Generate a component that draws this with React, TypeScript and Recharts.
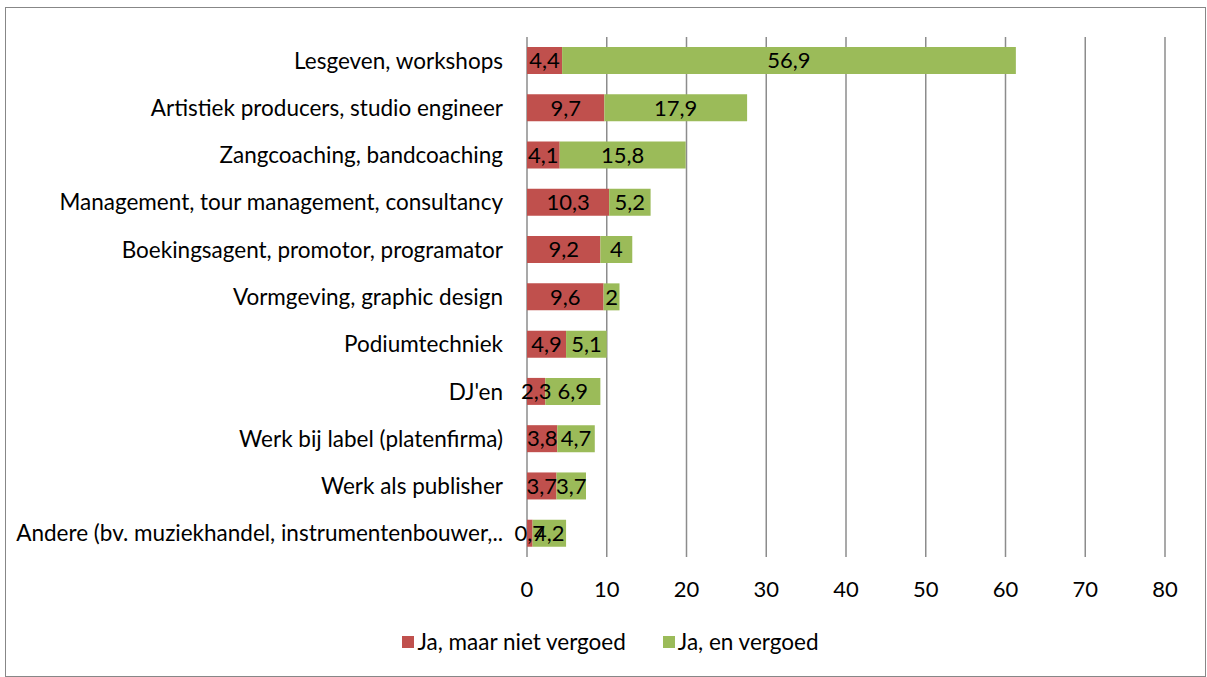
import React from 'react';
import { BarChart, Bar, XAxis, YAxis, CartesianGrid, Legend, LabelList } from 'recharts';

const categories = [
  'Lesgeven, workshops',
  'Artistiek producers, studio engineer',
  'Zangcoaching, bandcoaching',
  'Management, tour management, consultancy',
  'Boekingsagent, promotor, programator',
  'Vormgeving, graphic design',
  'Podiumtechniek',
  "DJ'en",
  'Werk bij label (platenfirma)',
  'Werk als publisher',
  'Andere (bv. muziekhandel, instrumentenbouwer,..',
];
const nietVergoed = [4.4, 9.7, 4.1, 10.3, 9.2, 9.6, 4.9, 2.3, 3.8, 3.7, 0.7];
const welVergoed = [56.9, 17.9, 15.8, 5.2, 4, 2, 5.1, 6.9, 4.7, 3.7, 4.2];
const xTicks = [0, 10, 20, 30, 40, 50, 60, 70, 80];

const RED = '#C0504D';
const GREEN = '#9BBB59';
const FONT = 'Lato, "Open Sans", sans-serif';

const data = categories.map((name, i) => ({
  name,
  niet: nietVergoed[i],
  wel: welVergoed[i],
}));

const comma = (v: any) => String(v).replace('.', ',');

const legendItems = [
  { label: 'Ja, maar niet vergoed', color: RED },
  { label: 'Ja, en vergoed', color: GREEN },
];

const LegendBox = () => (
  <div style={{ display: 'flex', justifyContent: 'center', paddingTop: 21, paddingLeft: 10, fontFamily: FONT, fontSize: 22.5, color: '#000' }}>
    {legendItems.map((it, i) => (
      <div key={i} style={{ display: 'flex', alignItems: 'center', marginRight: i === 0 ? 37 : 0 }}>
        <span style={{ width: 12, height: 12, background: it.color, display: 'inline-block', marginRight: 3 }} />
        <span>{it.label}</span>
      </div>
    ))}
  </div>
);

export default function App() {
  return (
    <div style={{ position: 'absolute', left: 5, top: 7, width: 1199, height: 668, border: '1px solid #878787', background: '#fff' }}>
      <BarChart
        width={1199}
        height={668}
        data={data}
        layout="vertical"
        margin={{ top: 29, right: 40, left: 0, bottom: 0 }}
        barSize={27}
      >
        <CartesianGrid horizontal={false} stroke="#8c8c8c" strokeWidth={1.5} />
        <XAxis
          type="number"
          domain={[0, 80]}
          ticks={xTicks}
          axisLine={false}
          tickLine={false}
          tickSize={0}
          tickMargin={24}
          height={50}
          tick={{ fill: '#000', fontSize: 22, fontFamily: FONT }}
        />
        <YAxis
          type="category"
          dataKey="name"
          width={521}
          axisLine={false}
          tickLine={false}
          tickSize={0}
          tickMargin={24}
          interval={0}
          tick={{ fill: '#000', fontSize: 22.5, fontFamily: FONT }}
        />
        <Legend
          verticalAlign="bottom"
          height={69}
          wrapperStyle={{ left: 0, width: 1199 }}
          content={() => <LegendBox />}
        />
        <Bar dataKey="niet" stackId="a" fill={RED} isAnimationActive={false}>
          <LabelList dataKey="niet" position="center" formatter={comma} fill="#000" fontSize={22} fontFamily={FONT} />
        </Bar>
        <Bar dataKey="wel" stackId="a" fill={GREEN} isAnimationActive={false}>
          <LabelList dataKey="wel" position="center" formatter={comma} fill="#000" fontSize={22} fontFamily={FONT} />
        </Bar>
      </BarChart>
    </div>
  );
}
